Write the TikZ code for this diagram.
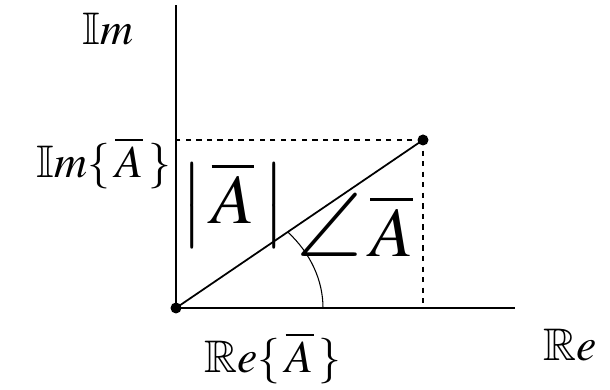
\documentclass[tikz,border=0pt]{standalone}
\usepackage{amssymb}
\usepackage{graphicx}
\usepackage{mathptmx}
\usepackage{tikz}
\usetikzlibrary{calc}

\begin{document}
\begin{tikzpicture}[
    font=\fontsize{26}{30}\selectfont,
    axis/.style={line width=1.1pt},
    guide/.style={dashed, line width=0.8pt},
    phasor/.style={line width=1pt},
    dot/.style={circle, fill, inner sep=0pt, minimum size=2.2mm},
    biglabel/.style={font=\fontsize{40}{44}\selectfont, inner sep=1pt}
]
\useasboundingbox (0,0) rectangle (12.2,7.8);
\node[dot] (O) at (3.52,1.64) {};
\node[dot] (P) at (8.46,5.00) {};
\coordinate (ytop) at (3.52,7.70);
\coordinate (xend) at (10.30,1.64);

\draw[axis] (O.center) -- (ytop);
\draw[axis] (O.center) -- (xend);
\draw[guide] (P.center) -- (P.center -| O.center);
\draw[guide] (P.center) -- (P.center |- O.center);
\draw[phasor] (O.center) -- (P.center);
\draw[line width=0.6pt] ($(O.center)+(2.94,0)$) arc[start angle=0, end angle=40.4, x radius=2.94, y radius=2.34];

\node (imlabel) at (2.16,7.22) {$\mathbb{I}m$};
\node (imval) at (2.08,4.54) {$\mathbb{I}m\{\,\overline{A}\,\}$};
\node (reval) at (5.46,0.64) {$\mathbb{R}e\{\,\overline{A}\,\}$};
\node (relabel) at (11.40,0.90) {$\mathbb{R}e$};
\node[biglabel] (mag) at (4.66,3.70) {$\left|\,\overline{A}\,\right|$};
\node[biglabel] (ang) at (7.10,3.30) {\scalebox{1.3}{$\angle$}$\,\overline{A}$};
\end{tikzpicture}
\end{document}
